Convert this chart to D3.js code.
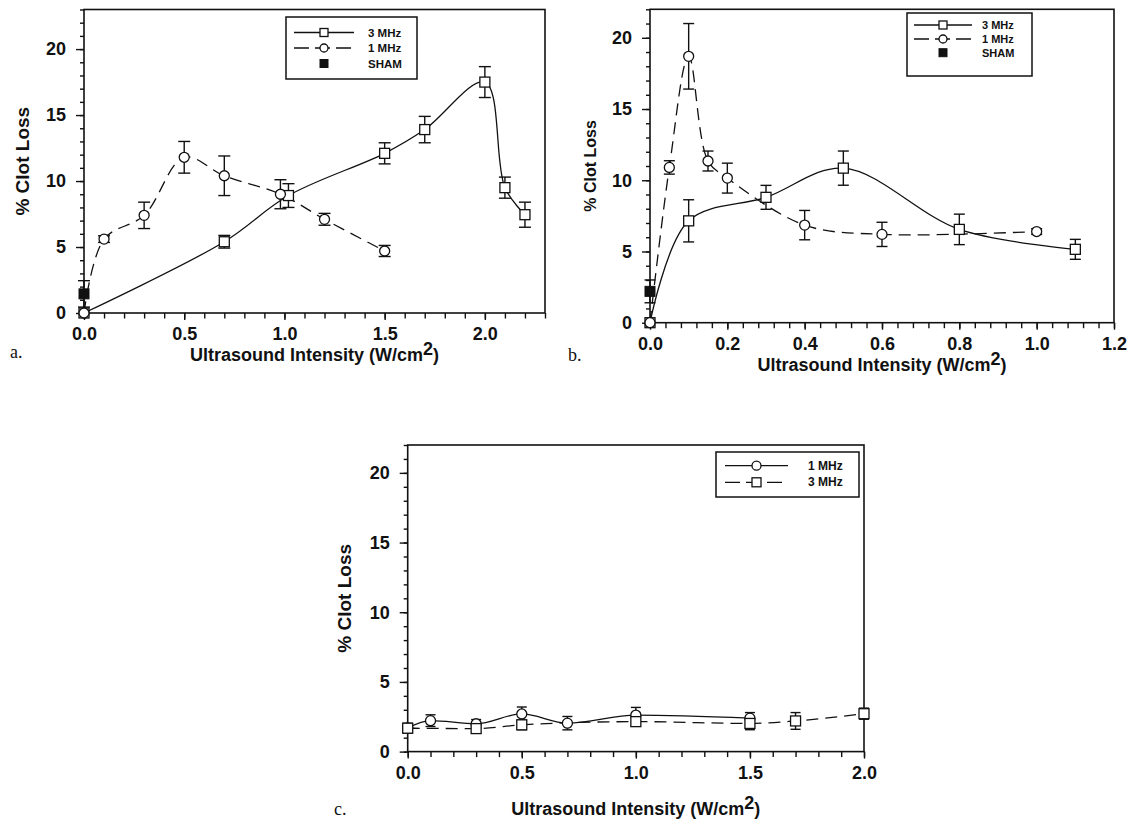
<!DOCTYPE html>
<html>
<head>
<meta charset="utf-8">
<script src="https://cdn.jsdelivr.net/npm/d3@7"></script>
<style>
  html, body { margin: 0; padding: 0; background: #fff; }
  svg { display: block; }
  text { font-family: "Liberation Sans", Arial, Helvetica, sans-serif; fill: #111; }
</style>
</head>
<body>
<svg id="fig" width="1129" height="821"></svg>
<script>
// ---------- Panel a: clot loss vs intensity ----------
const aIntensity3MHz = [0, 0.7, 1.02, 1.5, 1.7, 2.0, 2.1, 2.2];
const aLoss3MHz      = [0, 5.4, 8.9, 12.1, 13.9, 17.5, 9.5, 7.45];
const aErr3MHz       = [0, 0.48, 0.9, 0.8, 1.0, 1.17, 0.8, 0.95];
const aIntensity1MHz = [0, 0.1, 0.3, 0.5, 0.7, 0.98, 1.2, 1.5];
const aLoss1MHz      = [0, 5.6, 7.4, 11.8, 10.4, 9.0, 7.1, 4.7];
const aErr1MHz       = [0, 0.25, 1.0, 1.2, 1.5, 1.1, 0.45, 0.42];
const aShamIntensity = [0];
const aShamLoss      = [1.45];
const aShamErr       = [1.0];
const aXTicks = [0, 0.5, 1.0, 1.5, 2.0];
const aYTicks = [0, 5, 10, 15, 20];

// ---------- Panel b ----------
const bIntensity3MHz = [0, 0.1, 0.3, 0.5, 0.8, 1.1];
const bLoss3MHz      = [0, 7.15, 8.8, 10.85, 6.55, 5.15];
const bErr3MHz       = [0, 1.48, 0.84, 1.2, 1.07, 0.7];
const bIntensity1MHz = [0, 0.05, 0.1, 0.15, 0.2, 0.4, 0.6, 1.0];
const bLoss1MHz      = [0, 10.9, 18.7, 11.35, 10.15, 6.85, 6.2, 6.4];
const bErr1MHz       = [0, 0.47, 2.3, 0.7, 1.05, 1.03, 0.85, 0.2];
const bShamIntensity = [0];
const bShamLoss      = [2.2];
const bShamErr       = [0.8];
const bXTicks = [0, 0.2, 0.4, 0.6, 0.8, 1.0, 1.2];
const bYTicks = [0, 5, 10, 15, 20];

// ---------- Panel c ----------
const cIntensity1MHz = [0, 0.1, 0.3, 0.5, 0.7, 1.0, 1.5];
const cLoss1MHz      = [1.7, 2.22, 2.0, 2.7, 2.04, 2.62, 2.4];
const cErr1MHz       = [0.3, 0.42, 0.3, 0.5, 0.48, 0.55, 0.4];
const cIntensity3MHz = [0, 0.3, 0.5, 1.0, 1.5, 1.7, 2.0];
const cLoss3MHz      = [1.68, 1.65, 1.92, 2.15, 2.02, 2.2, 2.72];
const cErr3MHz       = [0.35, 0.3, 0.35, 0.3, 0.45, 0.6, 0.4];
const cXTicks = [0, 0.5, 1.0, 1.5, 2.0];
const cYTicks = [0, 5, 10, 15, 20];

const svg = d3.select("#fig");
const INK = "#111";
const DASH = "12,7";

function pointsOf(xs, ys, es) {
  return xs.map((v, i) => ({ x: v, y: ys[i], e: es ? es[i] : 0 }));
}

function drawMarker(g, kind, cx, cy, size) {
  if (kind === "circle") {
    g.append("circle").attr("cx", cx).attr("cy", cy).attr("r", size / 2)
      .attr("fill", "#fff").attr("stroke", INK).attr("stroke-width", 1.3);
  } else if (kind === "square") {
    g.append("rect").attr("x", cx - size / 2).attr("y", cy - size / 2).attr("width", size).attr("height", size)
      .attr("fill", "#fff").attr("stroke", INK).attr("stroke-width", 1.3);
  } else if (kind === "filled") {
    g.append("rect").attr("x", cx - size / 2).attr("y", cy - size / 2).attr("width", size).attr("height", size)
      .attr("fill", INK).attr("stroke", INK).attr("stroke-width", 1);
  }
}

function drawPanel(o) {
  const x = d3.scaleLinear().domain(o.xDomain).range([o.left, o.right]);
  const y = d3.scaleLinear().domain(o.yDomain).range([o.bottom, o.top]);
  const g = svg.append("g");

  // minor ticks
  g.append("g").attr("transform", `translate(0,${o.bottom})`)
    .call(d3.axisBottom(x).tickValues(o.xMinor).tickSize(o.xMinorLen).tickFormat(""))
    .call(s => s.select(".domain").remove());
  g.append("g").attr("transform", `translate(${o.left},0)`)
    .call(d3.axisLeft(y).tickValues(o.yMinor).tickSize(o.yMinorLen).tickFormat(""))
    .call(s => s.select(".domain").remove());
  // major ticks + labels
  g.append("g").attr("transform", `translate(0,${o.bottom})`)
    .call(d3.axisBottom(x).tickValues(o.xTicks).tickSize(o.xMajorLen).tickPadding(o.xPad).tickFormat(d3.format(".1f")))
    .call(s => s.select(".domain").remove())
    .call(s => s.selectAll("text").attr("font-size", o.tickFont).attr("font-weight", "bold").attr("fill", INK));
  g.append("g").attr("transform", `translate(${o.left},0)`)
    .call(d3.axisLeft(y).tickValues(o.yTicks).tickSize(o.yMajorLen).tickPadding(o.yPad).tickFormat(d3.format("d")))
    .call(s => s.select(".domain").remove())
    .call(s => s.selectAll("text").attr("font-size", o.tickFont).attr("font-weight", "bold").attr("fill", INK));
  g.selectAll(".tick line").attr("stroke", INK).attr("stroke-width", 1.4);

  // frame
  g.append("rect").attr("x", o.left).attr("y", o.top)
    .attr("width", o.right - o.left).attr("height", o.bottom - o.top)
    .attr("fill", "none").attr("stroke", INK).attr("stroke-width", 1.6);

  // axis titles
  g.append("text")
    .attr("transform", `translate(${o.yLabelX},${(o.top + o.bottom) / 2}) rotate(-90)`)
    .attr("text-anchor", "middle").attr("dominant-baseline", "central")
    .attr("font-size", o.yLabelFont).attr("font-weight", "bold")
    .text("% Clot Loss");
  const xt = g.append("text")
    .attr("x", (o.left + o.right) / 2).attr("y", o.xLabelY)
    .attr("text-anchor", "middle")
    .attr("font-size", o.xLabelFont).attr("font-weight", "bold");
  xt.append("tspan").text("Ultrasound Intensity (W/cm");
  xt.append("tspan").attr("dy", -6).text("2");
  xt.append("tspan").attr("dy", 6).text(")");

  // panel letter
  g.append("text").attr("x", o.letterX).attr("y", o.letterY)
    .style("font-family", "'Liberation Serif', 'Times New Roman', serif")
    .attr("font-size", 18)
    .text(o.letter);

  const plot = g.append("g");
  // connecting curves
  o.series.forEach(s => {
    if (!s.curve) return;
    plot.append("path").datum(s.pts)
      .attr("d", d3.line().x(d => x(d.x)).y(d => y(d.y)).curve(s.curve))
      .attr("fill", "none").attr("stroke", INK).attr("stroke-width", 1.3)
      .attr("stroke-dasharray", s.dash ? DASH : null);
  });
  // error bars
  o.series.forEach(s => {
    s.pts.filter(d => d.e > 0).forEach(d => {
      const cx = x(d.x), y1 = y(d.y + d.e), y2 = y(d.y - d.e);
      plot.append("line").attr("x1", cx).attr("x2", cx).attr("y1", y1).attr("y2", y2)
        .attr("stroke", INK).attr("stroke-width", 1.4);
      [y1, y2].forEach(yy => plot.append("line")
        .attr("x1", cx - o.cap / 2).attr("x2", cx + o.cap / 2).attr("y1", yy).attr("y2", yy)
        .attr("stroke", INK).attr("stroke-width", 1.4));
    });
  });
  // markers
  o.series.forEach(s => {
    s.pts.forEach(d => drawMarker(plot, s.marker, x(d.x), y(d.y), o.msize));
  });

  // legend
  const L = o.legend;
  g.append("rect").attr("x", L.x0).attr("y", L.y0).attr("width", L.x1 - L.x0).attr("height", L.y1 - L.y0)
    .attr("fill", "#fff").attr("stroke", INK).attr("stroke-width", 1.5);
  L.rows.forEach((r, i) => {
    const yy = L.rowY[i];
    if (r.line) {
      g.append("line").attr("x1", L.lx0).attr("x2", L.lx1).attr("y1", yy).attr("y2", yy)
        .attr("stroke", INK).attr("stroke-width", 1.3).attr("stroke-dasharray", r.dash ? "15,6" : null);
    }
    drawMarker(g, r.marker, (L.lx0 + L.lx1) / 2, yy, L.msize);
    g.append("text").attr("x", L.tx).attr("y", yy).attr("dominant-baseline", "central")
      .attr("font-size", L.font).attr("font-weight", "bold").text(r.label);
  });
}

const smooth = d3.curveCatmullRom.alpha(0.5);

// ----- panel a -----
drawPanel({
  letter: "a.", letterX: 10, letterY: 358,
  xDomain: [0, 2.3], yDomain: [0, 23],
  left: 84, right: 545, top: 9.5, bottom: 313,
  xTicks: aXTicks, yTicks: aYTicks,
  xMinor: d3.range(0, 2.31, 0.1), yMinor: d3.range(0, 23.1, 1),
  xMajorLen: 7, xMinorLen: 5.5, yMajorLen: 8, yMinorLen: 4, xPad: 7, yPad: 10,
  tickFont: 18, yLabelX: 22, yLabelFont: 19, xLabelY: 361, xLabelFont: 18,
  cap: 12, msize: 10,
  series: [
    { pts: pointsOf(aIntensity3MHz, aLoss3MHz, aErr3MHz), curve: smooth, dash: false, marker: "square" },
    { pts: pointsOf(aIntensity1MHz, aLoss1MHz, aErr1MHz), curve: smooth, dash: true, marker: "circle" },
    { pts: pointsOf(aShamIntensity, aShamLoss, aShamErr), curve: null, marker: "filled" }
  ],
  legend: {
    x0: 286, x1: 417, y0: 17, y1: 79, rowY: [32.5, 48, 63.5],
    lx0: 294, lx1: 354, tx: 368, font: 11.5, msize: 8,
    rows: [
      { label: "3 MHz", line: true, dash: false, marker: "square" },
      { label: "1 MHz", line: true, dash: true, marker: "circle" },
      { label: "SHAM", line: false, marker: "filled" }
    ]
  }
});

// ----- panel b -----
drawPanel({
  letter: "b.", letterX: 568, letterY: 361,
  xDomain: [0, 1.2], yDomain: [0, 22],
  left: 650, right: 1114, top: 9.3, bottom: 322.7,
  xTicks: bXTicks, yTicks: bYTicks,
  xMinor: d3.range(0, 1.201, 0.04), yMinor: d3.range(0, 22.1, 1),
  xMajorLen: 7, xMinorLen: 5.5, yMajorLen: 8, yMinorLen: 4, xPad: 8, yPad: 10,
  tickFont: 18, yLabelX: 590, yLabelFont: 16, xLabelY: 371, xLabelFont: 18,
  cap: 11, msize: 10,
  series: [
    { pts: pointsOf(bIntensity3MHz, bLoss3MHz, bErr3MHz), curve: smooth, dash: false, marker: "square" },
    { pts: pointsOf(bIntensity1MHz, bLoss1MHz, bErr1MHz), curve: smooth, dash: true, marker: "circle" },
    { pts: pointsOf(bShamIntensity, bShamLoss, bShamErr), curve: null, marker: "filled" }
  ],
  legend: {
    x0: 907, x1: 1032, y0: 13, y1: 76, rowY: [25, 39, 52.7],
    lx0: 914, lx1: 972, tx: 982, font: 11, msize: 8,
    rows: [
      { label: "3 MHz", line: true, dash: false, marker: "square" },
      { label: "1 MHz", line: true, dash: true, marker: "circle" },
      { label: "SHAM", line: false, marker: "filled" }
    ]
  }
});

// ----- panel c -----
drawPanel({
  letter: "c.", letterX: 334, letterY: 815,
  xDomain: [0, 2.0], yDomain: [0, 22],
  left: 407.7, right: 864, top: 445, bottom: 751.6,
  xTicks: cXTicks, yTicks: cYTicks,
  xMinor: d3.range(0, 2.01, 0.1), yMinor: d3.range(0, 22.1, 1),
  xMajorLen: 7, xMinorLen: 5.5, yMajorLen: 8, yMinorLen: 4, xPad: 8, yPad: 10,
  tickFont: 18, yLabelX: 344, yLabelFont: 19, xLabelY: 815, xLabelFont: 18,
  cap: 10, msize: 10,
  series: [
    { pts: pointsOf(cIntensity1MHz, cLoss1MHz, cErr1MHz), curve: d3.curveMonotoneX, dash: false, marker: "circle" },
    { pts: pointsOf(cIntensity3MHz, cLoss3MHz, cErr3MHz), curve: d3.curveMonotoneX, dash: true, marker: "square" }
  ],
  legend: {
    x0: 716, x1: 859, y0: 452, y1: 497, rowY: [465.7, 482.3],
    lx0: 725, lx1: 788, tx: 808, font: 12, msize: 9,
    rows: [
      { label: "1 MHz", line: true, dash: false, marker: "circle" },
      { label: "3 MHz", line: true, dash: true, marker: "square" }
    ]
  }
});
</script>
</body>
</html>
